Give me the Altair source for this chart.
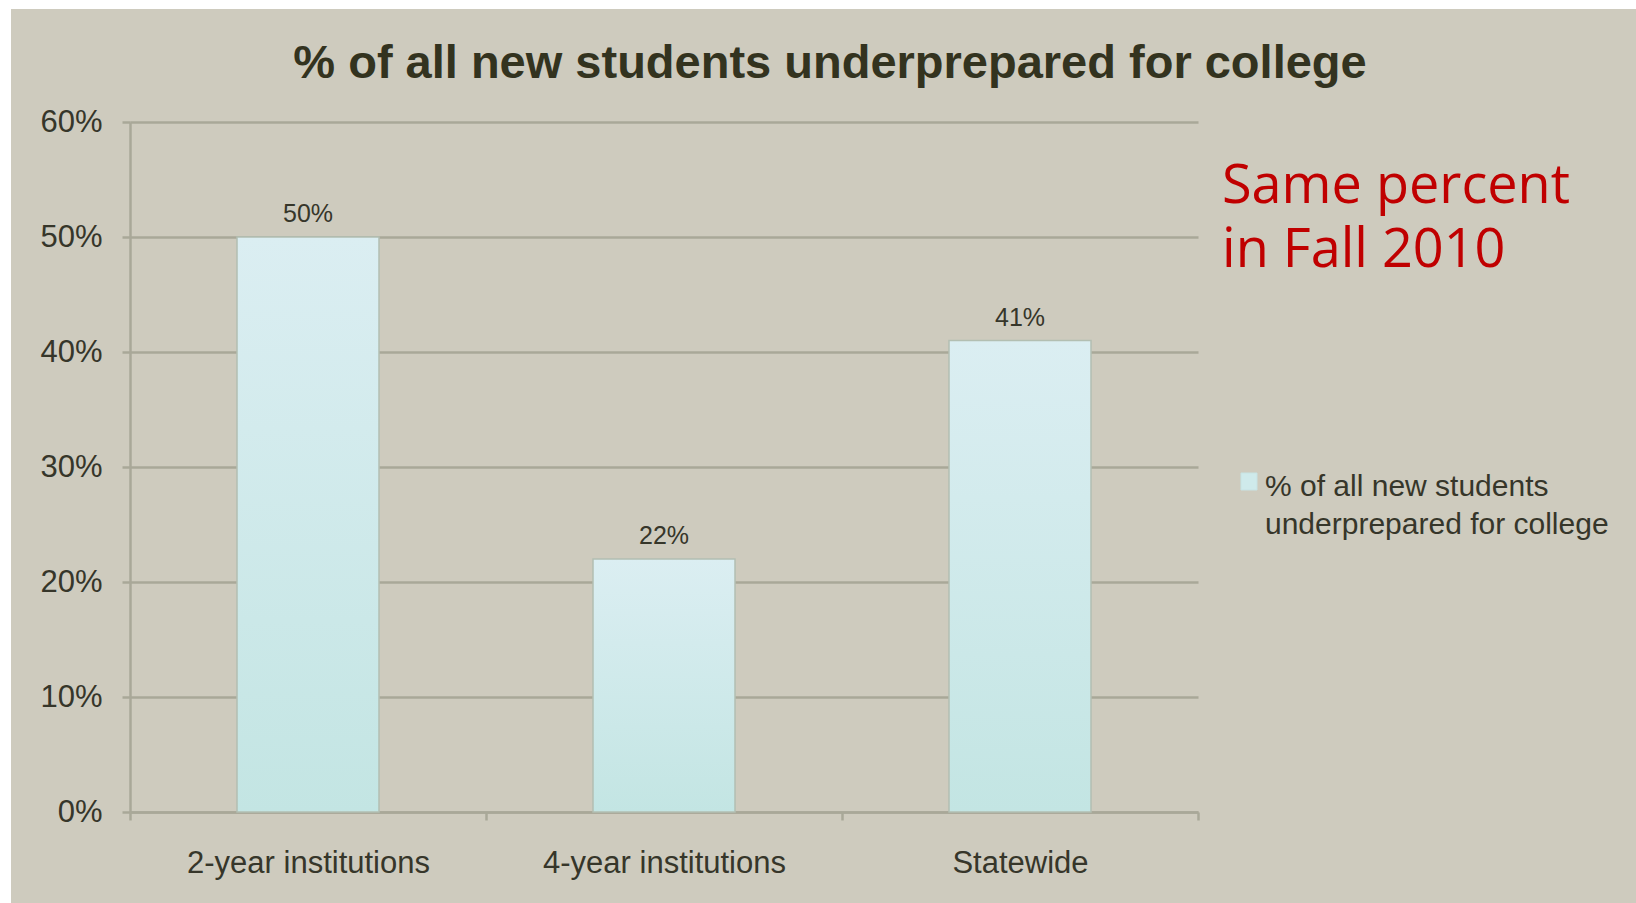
import altair as alt
import pandas as pd

categories = ["2-year institutions", "4-year institutions", "Statewide"]
values = [50, 22, 41]
labels = ["50%", "22%", "41%"]

title_text = "% of all new students underprepared for college"
legend_lines = ["% of all new students", "underprepared for college"]
note_line1 = "Same percent"
note_line2 = "in Fall 2010"

df = pd.DataFrame({"cat": categories, "val": values, "lab": labels})
one = pd.DataFrame({"k": [0]})

W, H = 1068, 690
PADL, PADT = 130, 122
BG = "#cecbbe"
TXT = "#36362a"
GRID = "#a9a898"

x = alt.X("cat:N", sort=categories, title=None,
          scale=alt.Scale(paddingInner=0, paddingOuter=0),
          axis=alt.Axis(labelAngle=0, labelFontSize=31, labelColor=TXT, labelLimit=0,
                        labelFont="Liberation Sans", labelPadding=28,
                        tickBand="extent", tickSize=8, tickColor=GRID, tickWidth=2.5,
                        domainColor=GRID, domainWidth=2.5, grid=False))
y = alt.Y("val:Q", title=None,
          scale=alt.Scale(domain=[0, 60], nice=False),
          axis=alt.Axis(values=[0, 10, 20, 30, 40, 50, 60],
                        labelExpr="datum.value + '%'", labelLimit=0,
                        labelFontSize=31, labelColor=TXT, labelFont="Liberation Sans",
                        labelPadding=20, tickSize=8, tickColor=GRID, tickWidth=2.5,
                        domainColor=GRID, domainWidth=2.5,
                        grid=True, gridColor=GRID, gridWidth=2.5))

# white page margin strips (top and left) outside the grey slide area
strip_top = alt.Chart(one).mark_rect(fill="white").encode(
    x=alt.value(-PADL), x2=alt.value(1636 - PADL),
    y=alt.value(-PADT), y2=alt.value(9 - PADT))
strip_left = alt.Chart(one).mark_rect(fill="white").encode(
    x=alt.value(-PADL), x2=alt.value(11 - PADL),
    y=alt.value(-PADT), y2=alt.value(903 - PADT))

bars = alt.Chart(df).mark_bar(
    size=142,
    color=alt.Gradient(gradient="linear", x1=0, x2=0, y1=0, y2=1,
                       stops=[alt.GradientStop(color="#dbeef2", offset=0),
                              alt.GradientStop(color="#c3e5e3", offset=1)]),
    stroke="#b3bfb2", strokeWidth=1.5,
).encode(x=x, y=y)

bar_text = alt.Chart(df).mark_text(
    baseline="alphabetic", dy=-15, fontSize=25, font="Liberation Sans", color=TXT
).encode(x=alt.X("cat:N", sort=categories), y="val:Q", text="lab:N")

leg_sq = alt.Chart(one).mark_rect(
    fill="#cfeaeb", stroke="#c7e3e4").encode(
    x=alt.value(1241 - PADL), x2=alt.value(1257 - PADL),
    y=alt.value(473 - PADT), y2=alt.value(490 - PADT))

leg_txt = alt.Chart(one).mark_text(
    text=legend_lines, align="left", baseline="alphabetic", fontSize=30,
    font="Liberation Sans", color=TXT, lineHeight=38).encode(
    x=alt.value(1265 - PADL), y=alt.value(496 - PADT))

note1 = alt.Chart(one).mark_text(
    text=note_line1, align="left", baseline="alphabetic", fontSize=54,
    font="Open Sans", color="#c00000").encode(
    x=alt.value(1222 - PADL), y=alt.value(203 - PADT))
note2 = alt.Chart(one).mark_text(
    text=note_line2, align="left", baseline="alphabetic", fontSize=54,
    font="Open Sans", color="#c00000").encode(
    x=alt.value(1222 - PADL), y=alt.value(267 - PADT))

title = alt.Chart(one).mark_text(
    text=title_text, align="center", baseline="alphabetic", fontSize=47,
    font="Liberation Sans", fontWeight="bold", color="#33331f").encode(
    x=alt.value(830 - PADL), y=alt.value(78 - PADT))

chart = alt.layer(bars, bar_text, strip_top, strip_left, leg_sq, leg_txt,
                  note1, note2, title).properties(
    width=W, height=H,
    autosize=alt.AutoSizeParams(type="none"),
    padding={"left": PADL, "top": PADT, "right": 1636 - PADL - W, "bottom": 903 - PADT - H},
    background=BG,
).configure_view(stroke=None)

chart.save("out.html", embed_options={"renderer": "svg", "actions": False})
